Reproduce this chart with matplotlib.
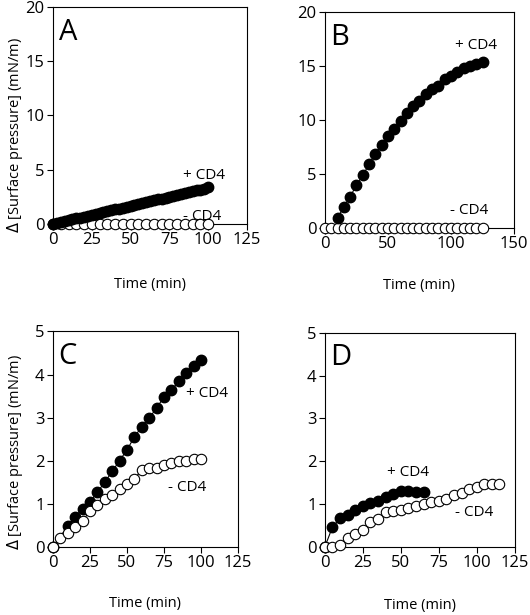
import matplotlib
matplotlib.use("Agg")
import matplotlib.pyplot as plt
import numpy as np

plt.rcParams['font.family'] = ['Open Sans', 'DejaVu Sans']

# panel A
a_plus_t = np.arange(0, 100.1, 2.5)
a_plus = [0, 0.08, 0.17, 0.25, 0.33, 0.42, 0.50, 0.58, 0.67, 0.75, 0.83,
          0.92, 1.00, 1.08, 1.16, 1.25, 1.33, 1.41, 1.50, 1.58, 1.66,
          1.75, 1.83, 1.91, 2.00, 2.08, 2.16, 2.25, 2.33, 2.41, 2.49,
          2.58, 2.66, 2.74, 2.83, 2.91, 3.00, 3.08, 3.16, 3.25, 3.35]
a_minus_t = np.arange(0, 101, 5)
a_minus = [0] * 21

# panel B
b_plus_t = np.arange(10, 126, 5)
b_plus = [0.9, 2.0, 2.9, 4.0, 4.9, 5.9, 6.9, 7.7, 8.5, 9.2, 9.9, 10.7,
          11.3, 11.8, 12.4, 12.9, 13.2, 13.8, 14.1, 14.5, 14.8, 15.0, 15.2, 15.4]
b_minus_t = np.arange(0, 126, 5)
b_minus = [0] * 26

# panel C
c_plus_t = [0] + list(range(10, 101, 5))
c_plus = [0, 0.48, 0.70, 0.88, 1.04, 1.27, 1.50, 1.75, 2.00, 2.25, 2.55,
          2.79, 2.98, 3.23, 3.47, 3.64, 3.84, 4.03, 4.20, 4.33]
c_minus_t = np.arange(0, 101, 5)
c_minus = [0, 0.20, 0.33, 0.47, 0.60, 0.84, 0.98, 1.10, 1.20, 1.33, 1.45,
           1.58, 1.78, 1.82, 1.83, 1.90, 1.95, 1.98, 2.00, 2.03, 2.03]

# panel D
d_plus_t = np.arange(0, 66, 5)
d_plus = [0, 0.46, 0.66, 0.74, 0.86, 0.95, 1.02, 1.08, 1.16, 1.23, 1.31,
          1.30, 1.29, 1.28]
d_minus_t = np.arange(0, 116, 5)
d_minus = [0, 0, 0.05, 0.21, 0.30, 0.40, 0.58, 0.65, 0.80, 0.83, 0.85, 0.90,
           0.95, 1.00, 1.05, 1.07, 1.12, 1.20, 1.26, 1.34, 1.40, 1.47, 1.47, 1.47]

fig = plt.figure(figsize=(5.3, 6.15), dpi=100)

panels = [
    # rect, letter, data, xlim, xticks, ylim, yticks, labels, filled_on_top, xlabel y
    ([0.100, 0.636, 0.366, 0.353], 'A', (a_plus_t, a_plus, a_minus_t, a_minus),
     125, [0, 25, 50, 75, 100, 125], 20, [0, 5, 10, 15, 20],
     [(84, 4.5, '+ CD4'), (84, 0.65, '- CD4')], True, -0.245),
    ([0.613, 0.629, 0.357, 0.351], 'B', (b_plus_t, b_plus, b_minus_t, b_minus),
     150, [0, 50, 100, 150], 20, [0, 5, 10, 15, 20],
     [(103, 16.9, '+ CD4'), (99, 1.67, '- CD4')], True, -0.23),
    ([0.100, 0.111, 0.349, 0.350], 'C', (c_plus_t, c_plus, c_minus_t, c_minus),
     125, [0, 25, 50, 75, 100, 125], 5, [0, 1, 2, 3, 4, 5],
     [(90, 3.56, '+ CD4'), (78, 1.37, '- CD4')], False, -0.23),
    ([0.613, 0.111, 0.358, 0.348], 'D', (d_plus_t, d_plus, d_minus_t, d_minus),
     125, [0, 25, 50, 75, 100, 125], 5, [0, 1, 2, 3, 4, 5],
     [(41, 1.73, '+ CD4'), (86, 0.79, '- CD4')], False, -0.24),
]

for rect, letter, data, xmax, xt, ymax, yt, labels, filled_top, xly in panels:
    ax = fig.add_axes(rect)
    pt, pv, mt, mv = data
    zp, zm = (4, 3) if filled_top else (3, 4)
    ax.plot(pt, pv, '-o', color='black', mfc='black', mec='black',
            ms=7.5, lw=0.8, clip_on=False, zorder=zp)
    ax.plot(mt, mv, '-o', color='black', mfc='white', mec='black',
            ms=7.5, mew=0.8, lw=0.8, clip_on=False, zorder=zm)
    ax.set_xlim(0, xmax)
    ax.set_ylim(0, ymax)
    ax.set_xticks(xt)
    ax.set_yticks(yt)
    ax.tick_params(direction='out', length=4, width=0.8, labelsize=12, pad=2)
    for s in ax.spines.values():
        s.set_linewidth(0.8)
    ax.set_xlabel('Time (min)', fontsize=10.5)
    ax.xaxis.set_label_coords(0.5, xly)
    ax.text(0.03, 0.95, letter, transform=ax.transAxes, fontsize=21,
            va='top', ha='left')
    for x, y, s in labels:
        ax.text(x, y, s, fontsize=11, ha='left', va='center')

fig.text(0.028, 1 - 135 / 615, r'$\Delta$ [Surface pressure] (mN/m)',
         rotation=90, ha='center', va='center', fontsize=10.5)
fig.text(0.028, 1 - 452 / 615, r'$\Delta$ [Surface pressure] (mN/m)',
         rotation=90, ha='center', va='center', fontsize=10.5)

fig.savefig('out.png', dpi=100)
